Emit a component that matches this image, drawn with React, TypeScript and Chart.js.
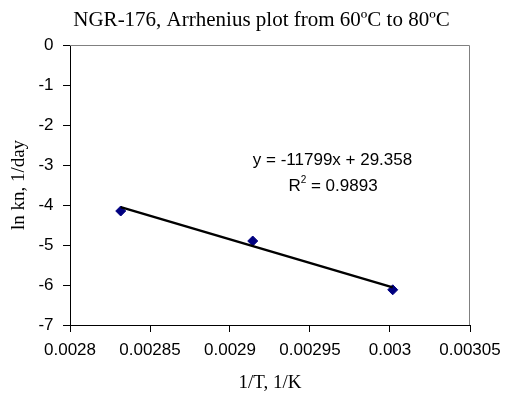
import { useEffect, useRef } from "react";
import { Chart, registerables } from "chart.js";

Chart.register(...registerables);

// ---- data ----
const INV_T = [0.0028317, 0.0029142, 0.0030017];
const LN_KN = [-4.15, -4.9, -6.12];
const X_TICKS = [0.0028, 0.00285, 0.0029, 0.00295, 0.003, 0.00305];
const Y_TICKS = [0, -1, -2, -3, -4, -5, -6, -7];
const TREND_SLOPE = -11799;
const TREND_INTERCEPT = 29.358;
const EQUATION = "y = -11799x + 29.358";
const R_LABEL = "R";
const R_SUP = "2";
const R_VALUE = " = 0.9893";
const TITLE = "NGR-176, Arrhenius plot from 60ºC to 80ºC";
const X_TITLE = "1/T, 1/K";
const Y_TITLE = "ln kn, 1/day";

const SANS = "'Liberation Sans', Arial, sans-serif";
const SERIF = "'Liberation Serif', 'Times New Roman', serif";

const frameAndText = {
  id: "frameAndText",
  beforeDatasetsDraw(chart: any) {
    const { ctx, chartArea } = chart;
    ctx.save();
    ctx.strokeStyle = "#808080";
    ctx.lineWidth = 1;
    ctx.beginPath();
    ctx.moveTo(chartArea.left, chartArea.top + 0.5);
    ctx.lineTo(chartArea.right - 0.5, chartArea.top + 0.5);
    ctx.lineTo(chartArea.right - 0.5, chartArea.bottom);
    ctx.stroke();
    ctx.restore();
  },
  afterDatasetsDraw(chart: any) {
    const { ctx } = chart;
    ctx.save();
    ctx.fillStyle = "#000";
    ctx.textBaseline = "middle";
    // chart title
    ctx.font = `21px ${SERIF}`;
    ctx.textAlign = "center";
    ctx.fillText(TITLE, 261.5, 20);
    // trendline equation
    ctx.font = `17px ${SANS}`;
    ctx.fillText(EQUATION, 332.5, 160);
    // R² line
    ctx.textAlign = "left";
    const wR = ctx.measureText(R_LABEL).width;
    const wV = ctx.measureText(R_VALUE).width;
    ctx.font = `10px ${SANS}`;
    const wS = ctx.measureText(R_SUP).width;
    const total = wR + wS + wV;
    let x = 333 - total / 2;
    ctx.font = `17px ${SANS}`;
    ctx.fillText(R_LABEL, x, 186);
    x += wR;
    ctx.font = `10px ${SANS}`;
    ctx.fillText(R_SUP, x, 180);
    x += wS;
    ctx.font = `17px ${SANS}`;
    ctx.fillText(R_VALUE, x, 186);
    ctx.restore();
  },
};

export default function App() {
  const ref = useRef<HTMLCanvasElement | null>(null);
  useEffect(() => {
    if (!ref.current) return;
    const trend = [INV_T[0], INV_T[INV_T.length - 1]].map((x) => ({
      x,
      y: TREND_SLOPE * x + TREND_INTERCEPT,
    }));
    const points = INV_T.map((x, i) => ({ x, y: LN_KN[i] }));
    const chart = new Chart(ref.current, {
      type: "scatter",
      data: {
        datasets: [
          {
            data: points,
            pointStyle: "rectRot",
            pointRadius: 5,
            backgroundColor: "#000080",
            borderColor: "#000080",
            borderWidth: 1,
            showLine: false,
            order: 2,
          },
          {
            data: trend,
            showLine: true,
            borderColor: "#000",
            borderWidth: 2.5,
            pointRadius: 0,
            order: 1,
          },
        ],
      },
      options: {
        animation: false,
        responsive: false,
        events: [],
        layout: { padding: { left: 11, right: 42, top: 45, bottom: 0 } },
        plugins: {
          legend: { display: false },
          tooltip: { enabled: false },
          title: { display: false },
        },
        scales: {
          x: {
            type: "linear",
            min: 0.0028,
            max: 0.00305,
            afterBuildTicks: (s: any) => {
              s.ticks = X_TICKS.map((v) => ({ value: v }));
            },
            afterFit: (s: any) => {
              s.height = 74;
            },
            ticks: {
              color: "#000",
              font: { family: SANS, size: 17 },
              padding: 8,
              maxRotation: 0,
              autoSkip: false,
              callback: (v: any) => String(v),
            },
            grid: { drawOnChartArea: false, drawTicks: true, tickLength: 7, color: "#000" },
            border: { color: "#000", width: 1 },
            title: {
              display: true,
              text: X_TITLE,
              color: "#000",
              font: { family: SERIF, size: 19, lineHeight: 1.2 },
              padding: { top: 0, bottom: 4.6 },
            },
          },
          y: {
            type: "linear",
            min: -7,
            max: 0,
            afterBuildTicks: (s: any) => {
              s.ticks = Y_TICKS.map((v) => ({ value: v }));
            },
            afterFit: (s: any) => {
              s.width = 59;
            },
            ticks: {
              color: "#000",
              font: { family: SANS, size: 17 },
              padding: 9.5,
              autoSkip: false,
              callback: (v: any) => String(v),
            },
            grid: { drawOnChartArea: false, drawTicks: true, tickLength: 7, color: "#000" },
            border: { color: "#000", width: 1 },
            title: {
              display: true,
              text: Y_TITLE,
              color: "#000",
              font: { family: SERIF, size: 19, lineHeight: 1 },
              padding: { top: -1.5, bottom: 0 },
            },
          },
        },
      },
      plugins: [frameAndText],
    });
    return () => chart.destroy();
  }, []);
  return (
    <div style={{ position: "fixed", left: 0, top: 0, width: 512, height: 399, background: "#fff" }}>
      <canvas ref={ref} width={512} height={399} style={{ display: "block" }} />
    </div>
  );
}
